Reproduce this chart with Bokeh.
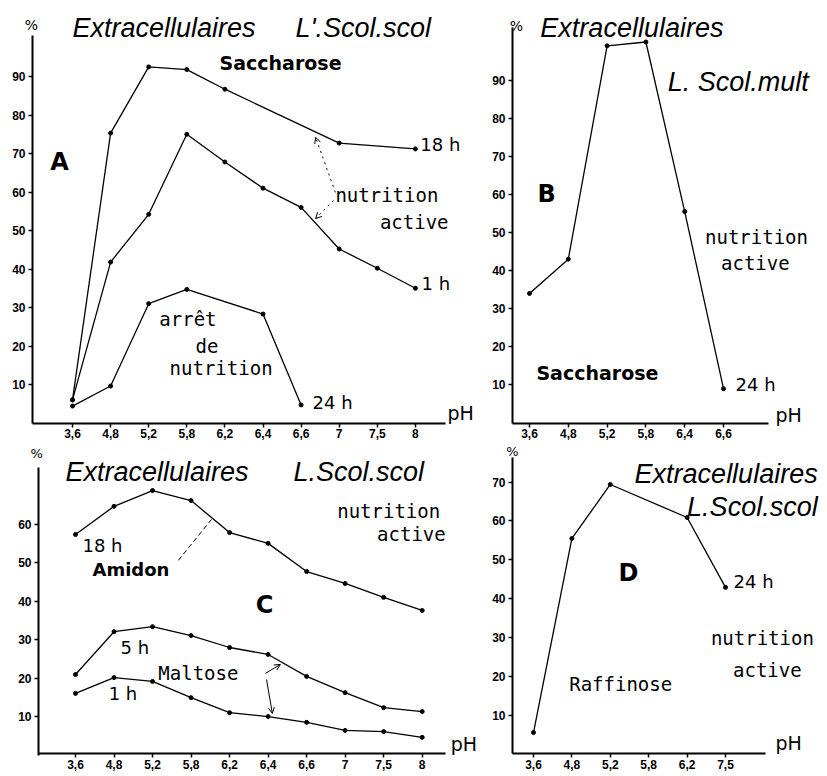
from bokeh.plotting import figure
from bokeh.models import Range1d, LinearAxis, FixedTicker, Arrow, OpenHead
from bokeh.layouts import row, column
from bokeh.embed import file_html
from bokeh.resources import INLINE
from bokeh.core.properties import value

# ---------------- data ----------------
ph_A = ["3,6", "4,8", "5,2", "5,8", "6,2", "6,4", "6,6", "7", "7,5", "8"]
A_18h_ph = ["3,6", "4,8", "5,2", "5,8", "6,2", "7", "8"]
A_18h = [6, 75.3, 92.5, 91.8, 86.7, 72.7, 71.2]
A_1h_ph = ph_A
A_1h = [6, 41.8, 54.2, 75, 67.8, 61, 56, 45.2, 40.2, 35]
A_24h_ph = ["3,6", "4,8", "5,2", "5,8", "6,4", "6,6"]
A_24h = [4.4, 9.6, 31, 34.7, 28.3, 4.7]

ph_B = ["3,6", "4,8", "5,2", "5,8", "6,4", "6,6"]
B_24h_ph = ph_B
B_24h = [34, 43, 99, 100, 55.5, 9]

ph_C = ph_A
C_18h = [57.3, 64.6, 68.7, 66.1, 57.8, 55, 47.7, 44.6, 41, 37.6]
C_5h = [21, 32.1, 33.4, 31.1, 28, 26.2, 20.5, 16.3, 12.4, 11.4]
C_1h = [16.1, 20.2, 19.2, 15, 11.1, 10.1, 8.6, 6.5, 6.2, 4.7]

ph_D = ["3,6", "4,8", "5,2", "5,8", "6,2", "7,5"]
D_24h_ph = ["3,6", "4,8", "5,2", "6,2", "7,5"]
D_24h = [5.5, 55.5, 69.4, 60.9, 42.9]

yticks_A = [10, 20, 30, 40, 50, 60, 70, 80, 90]
yticks_B = [10, 20, 30, 40, 50, 60, 70, 80, 90]
yticks_C = [10, 20, 30, 40, 50, 60]
yticks_D = [10, 20, 30, 40, 50, 60, 70]

# ---------------- styles ----------------
SANS = "DejaVu Sans"
TITLEF = "Liberation Sans"
MONO = "DejaVu Sans Mono"
TICKF = "Liberation Sans"


def make_panel(box, x0, dx, y0, dy, yaxis_px, xaxis_end_px, yaxis_top_py,
               xlabels, yticks, xaxis_v=0.0):
    left, top, right, bottom = box
    xr = Range1d((left - x0) / dx, (right - x0) / dx)
    yr = Range1d((y0 - bottom) / dy, (y0 - top) / dy)
    p = figure(width=right - left, height=bottom - top, x_range=xr, y_range=yr,
               x_axis_type=None, y_axis_type=None, toolbar_location=None,
               output_backend="svg", min_border=0, outline_line_color=None,
               background_fill_color="white", border_fill_color="white")
    ya = (yaxis_px - x0) / dx
    xe = (xaxis_end_px - x0) / dx
    yt = (y0 - yaxis_top_py) / dy
    common = dict(axis_line_width=2, axis_line_color="black",
                  major_tick_line_width=1.5, major_tick_line_color="black",
                  major_tick_in=0, major_tick_out=4,
                  minor_tick_in=0, minor_tick_out=0,
                  major_label_text_font=TICKF,
                  major_label_text_font_style="bold",
                  major_label_text_font_size="12px",
                  major_label_text_color="black")
    xaxis = LinearAxis(fixed_location=xaxis_v, bounds=(ya, xe),
                       ticker=FixedTicker(ticks=list(range(len(xlabels)))),
                       major_label_overrides={i: s for i, s in enumerate(xlabels)},
                       major_label_standoff=2, **common)
    yaxis = LinearAxis(fixed_location=ya, bounds=(0, yt),
                       ticker=FixedTicker(ticks=yticks),
                       major_label_standoff=3, **common)
    p.add_layout(xaxis, "below")
    p.add_layout(yaxis, "left")
    return p


def series(p, cats, phs, vals):
    xs = [cats.index(v) for v in phs]
    p.line(xs, vals, line_color="black", line_width=1.3)
    p.scatter(xs, vals, size=4, fill_color="black", line_color="black")


def txt(p, x, y, s, font=SANS, size=18, style="normal", align="left"):
    p.text(x=[x], y=[y], text=[s], text_font=value(font),
           text_font_size=f"{size}px", text_font_style=style,
           text_align=align, text_baseline="middle", text_color="black")


def arrow(p, xs, ys, xe, ye, dash="dotted", head=True):
    p.add_layout(Arrow(end=OpenHead(size=6, line_width=1) if head else None,
                       x_start=xs, y_start=ys, x_end=xe, y_end=ye,
                       line_dash=dash, line_width=1, line_color="black"))


# ---------------- Panel A ----------------
pA = make_panel((0, 0, 480, 443), 72, 38.1, 422.5, 3.85, 32, 445, 35, ph_A, yticks_A)
series(pA, ph_A, A_18h_ph, A_18h)
series(pA, ph_A, A_1h_ph, A_1h)
series(pA, ph_A, A_24h_ph, A_24h)
txt(pA, -1.08, 103.4, "%", size=14, align="center")
txt(pA, 0.0, 102.7, "Extracellulaires", font=TITLEF, size=27, style="italic")
txt(pA, 5.85, 102.7, "L'.Scol.scol", font=TITLEF, size=27, style="italic")
txt(pA, 5.46, 93.6, "Saccharose", size=19, style="bold", align="center")
txt(pA, -0.34, 67.9, "A", size=24, style="bold", align="center")
txt(pA, 9.13, 72.3, "18 h")
txt(pA, 6.9, 59.1, "nutrition", font=MONO, size=19)
txt(pA, 9.87, 52.1, "active", font=MONO, size=19, align="right")
txt(pA, 9.16, 36.2, "1 h")
txt(pA, 3.03, 26.9, "arrêt", font=MONO, size=19, align="center")
txt(pA, 3.53, 20.1, "de", font=MONO, size=19, align="center")
txt(pA, 3.9, 14.2, "nutrition", font=MONO, size=19, align="center")
txt(pA, 6.3, 5.3, "24 h")
txt(pA, 9.84, 2.5, "pH", size=19)
arrow(pA, 6.9, 59.9, 6.38, 74.2)
arrow(pA, 6.85, 57.8, 6.38, 53.1)

# ---------------- Panel B ----------------
pB = make_panel((480, 0, 826, 443), 529, 38.8, 422.5, 3.81, 512, 768, 27, ph_B, yticks_B)
series(pB, ph_B, B_24h_ph, B_24h)
txt(pB, -0.34, 104.3, "%", size=14, align="center")
txt(pB, 0.28, 103.8, "Extracellulaires", font=TITLEF, size=27, style="italic")
txt(pB, 3.56, 89.4, "L. Scol.mult", font=TITLEF, size=27, style="italic")
txt(pB, 0.44, 60.2, "B", size=24, style="bold", align="center")
txt(pB, 5.85, 48.9, "nutrition", font=MONO, size=19, align="center")
txt(pB, 5.82, 41.9, "active", font=MONO, size=19, align="center")
txt(pB, 1.75, 13.0, "Saccharose", size=19, style="bold", align="center")
txt(pB, 5.31, 10.1, "24 h")
txt(pB, 6.34, 2.0, "pH", size=19)

# ---------------- Panel C ----------------
pC = make_panel((0, 443, 480, 775), 75, 38.52, 755, 3.857, 38, 445, 467, ph_C, yticks_C,
                xaxis_v=0.5)
series(pC, ph_C, ph_C, C_18h)
series(pC, ph_C, ph_C, C_5h)
series(pC, ph_C, ph_C, C_1h)
txt(pC, -1.01, 78.3, "%", size=13, align="center")
txt(pC, -0.26, 73.4, "Extracellulaires", font=TITLEF, size=27, style="italic")
txt(pC, 5.66, 73.4, "L.Scol.scol", font=TITLEF, size=27, style="italic")
txt(pC, 8.13, 63.5, "nutrition", font=MONO, size=19, align="center")
txt(pC, 8.72, 57.3, "active", font=MONO, size=19, align="center")
txt(pC, 0.18, 54.4, "18 h")
txt(pC, 0.44, 48.2, "Amidon", size=18, style="bold")
txt(pC, 4.91, 38.9, "C", size=24, style="bold", align="center")
txt(pC, 1.17, 28.0, "5 h")
txt(pC, 2.15, 21.5, "Maltose", font=MONO, size=19)
txt(pC, 0.86, 16.1, "1 h")
txt(pC, 9.74, 3.1, "pH", size=19)
arrow(pC, 2.67, 50.6, 3.53, 61.2, dash="5 3", head=False)
arrow(pC, 4.93, 21.3, 5.32, 23.6, dash="solid")
arrow(pC, 4.96, 19.7, 5.11, 10.9, dash="solid")

# ---------------- Panel D ----------------
pD = make_panel((480, 443, 826, 775), 533, 38.4, 753.4, 3.882, 512, 765, 457, ph_D, yticks_D)
series(pD, ph_D, D_24h_ph, D_24h)
txt(pD, -0.55, 78.0, "%", size=13, align="center")
txt(pD, 7.4, 72.2, "Extracellulaires", font=TITLEF, size=27, style="italic", align="right")
txt(pD, 7.4, 63.5, "L.Scol.scol", font=TITLEF, size=27, style="italic", align="right")
txt(pD, 2.47, 46.7, "D", size=24, style="bold", align="center")
txt(pD, 5.21, 44.4, "24 h")
txt(pD, 5.96, 29.9, "nutrition", font=MONO, size=19, align="center")
txt(pD, 6.09, 21.5, "active", font=MONO, size=19, align="center")
txt(pD, 2.27, 18.1, "Raffinose", font=MONO, size=19, align="center")
txt(pD, 6.3, 2.7, "pH", size=19)

layout = column(row(pA, pB), row(pC, pD))
open("out.html", "w").write(file_html(layout, INLINE))
